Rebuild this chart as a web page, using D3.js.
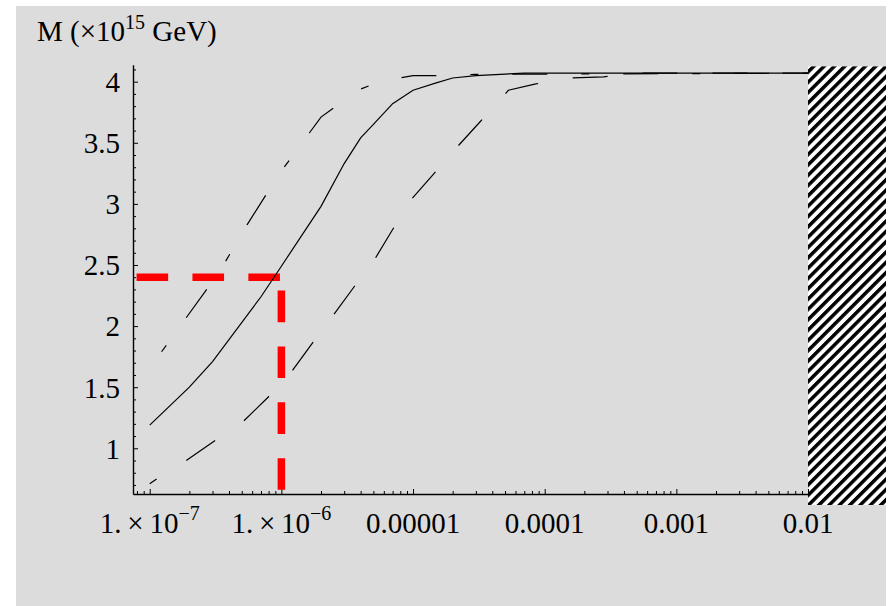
<!DOCTYPE html>
<html>
<head>
<meta charset="utf-8">
<script src="https://cdn.jsdelivr.net/npm/d3@7"></script>
<style>
  body { margin: 0; background: #fff; }
  text { font-family: "Liberation Serif", "Times New Roman", serif; fill: #000; }
</style>
</head>
<body>
<div id="plot"></div>
<script>
// curves: [x, M in 10^15 GeV]
const solidCurve = [[1e-7,1.19],[2e-7,1.50],[3e-7,1.71],[7e-7,2.24],[1e-6,2.49],[2e-6,2.98],
  [3e-6,3.33],[4e-6,3.54],[5e-6,3.65],[7e-6,3.82],[1e-5,3.93],[1.5e-5,3.99],[2e-5,4.03],
  [3e-5,4.05],[7e-5,4.07],[1e-2,4.07]];

const upperCurve = [[1.23e-7,1.79],[2.71e-7,2.30],[3.77e-7,2.53],[5.5e-7,2.83],[7.6e-7,3.07],
  [1.05e-6,3.30],[1.63e-6,3.58],[2e-6,3.71],[3e-6,3.85],[4e-6,3.94],[5e-6,3.98],[7e-6,4.02],
  [1e-5,4.05],[1.5e-5,4.05],[3e-5,4.06],[1e-2,4.07]];

const lowerCurve = [[1e-7,0.71],[1.13e-7,0.75],[1.89e-7,0.90],[3.1e-7,1.06],[5.14e-7,1.22],
  [7.96e-7,1.42],[1.2e-6,1.63],[1.72e-6,1.86],[2.48e-6,2.09],[3.56e-6,2.32],[5.07e-6,2.54],
  [7e-6,2.79],[9.6e-6,3.03],[1.42e-5,3.24],[2.14e-5,3.46],[3.22e-5,3.67],[4.84e-5,3.88],
  [5.3e-5,3.93],[8.4e-5,3.98],[1.5e-4,4.03],[2.8e-4,4.04],[5.2e-4,4.07],[1e-2,4.07]];

// red guide lines at M = 2.4, x = 1e-6
const guideH = [[10 ** -7.1, 2.4], [1e-6, 2.4]];
const guideV = [[1e-6, 0.66], [1e-6, 2.4]];

const yMajor = [1, 1.5, 2, 2.5, 3, 3.5, 4];
const xMajor = [1e-7, 1e-6, 1e-5, 1e-4, 1e-3, 1e-2];
const xLabels = [["1.", "\u22127"], ["1.", "\u22126"], ["0.00001"], ["0.0001"], ["0.001"], ["0.01"]];

const w = 891, h = 606;

const svg = d3.select("div#plot")
  .append("svg")
    .attr("width", w)
    .attr("height", h);

// grey page
svg.append("rect")
  .attr("x", 16).attr("y", 6)
  .attr("width", 870).attr("height", 600)
  .attr("fill", "#dcdcdc");

// scales
const x = d3.scaleLog().domain([10 ** -7.127, 1e-2]).range([133, 808]);
const y = d3.scaleLinear().domain([0.626, 4.139]).range([494, 64.7]);

// hatch pattern for excluded region
const defs = svg.append("defs");
const pat = defs.append("pattern")
  .attr("id", "hatch")
  .attr("patternUnits", "userSpaceOnUse")
  .attr("width", 7.3).attr("height", 7.3)
  .attr("patternTransform", "rotate(45)");
pat.append("rect").attr("width", 7.3).attr("height", 7.3).attr("fill", "#fff");
pat.append("rect").attr("width", 3.5).attr("height", 7.3).attr("fill", "#000");

svg.append("rect")
  .attr("x", x(1e-2))
  .attr("y", y(4.125))
  .attr("width", 886 - x(1e-2))
  .attr("height", y(0.536) - y(4.125))
  .attr("fill", "url(#hatch)");

// axes
const yMinor = d3.range(0.7, 4.15, 0.1).filter(v => yMajor.every(m => Math.abs(m - v) > 1e-6));
const xMinor = [];
[1e-8, 1e-7, 1e-6, 1e-5, 1e-4, 1e-3].forEach(dec => {
  for (let k = 2; k <= 9; k++) {
    const v = k * dec;
    if (v > x.domain()[0] && v < 1e-2) xMinor.push(v);
  }
});

const yAxis = svg.append("g")
  .attr("transform", `translate(${x.range()[0]},0)`)
  .call(d3.axisLeft(y).tickValues(yMajor).tickSize(-5).tickSizeOuter(0).tickPadding(13)
    .tickFormat(d => d));
yAxis.selectAll("text").style("font-size", "29px").attr("dy", "0.34em");

svg.append("g")
  .attr("transform", `translate(${x.range()[0]},0)`)
  .call(d3.axisLeft(y).tickValues(yMinor).tickSize(-3).tickSizeOuter(0).tickFormat(""))
  .select(".domain").remove();

svg.append("g")
  .attr("transform", `translate(0,${y.range()[0]})`)
  .call(d3.axisBottom(x).tickValues(xMajor).tickSize(-5).tickSizeOuter(0).tickFormat(""));

svg.append("g")
  .attr("transform", `translate(0,${y.range()[0]})`)
  .call(d3.axisBottom(x).tickValues(xMinor).tickSize(-3).tickSizeOuter(0).tickFormat(""))
  .select(".domain").remove();

svg.selectAll(".domain").attr("stroke-width", 1.4);
svg.selectAll(".tick line").attr("stroke-width", 1);

// x tick labels
xMajor.forEach((v, i) => {
  const lab = xLabels[i];
  const t = svg.append("text")
    .attr("x", x(v))
    .attr("y", 533)
    .attr("text-anchor", "middle")
    .style("font-size", "29px");
  if (lab.length === 2) {
    t.append("tspan").text(lab[0] + "\u2009\u00d7\u200910");
    t.append("tspan").attr("dy", -13).style("font-size", "20px").text(lab[1]);
  } else {
    t.text(lab[0]);
  }
});

// title
const title = svg.append("text")
  .attr("x", 37)
  .attr("y", 41)
  .style("font-size", "29px");
title.append("tspan").text("M (\u00d710");
title.append("tspan").attr("dy", -12).style("font-size", "20px").text("15");
title.append("tspan").attr("dy", 12).text(" GeV)");

// red guides
const line = d3.line().x(d => x(d[0])).y(d => y(d[1]));

[guideH, guideV].forEach(g => {
  svg.append("path")
    .attr("d", line(g))
    .attr("fill", "none")
    .attr("stroke", "#ff0000")
    .attr("stroke-width", 7.5)
    .attr("stroke-dasharray", "31.6,24.3");
});

// curves
svg.append("path")
  .attr("d", line(solidCurve))
  .attr("fill", "none")
  .attr("stroke", "#000")
  .attr("stroke-width", 1.2);

svg.append("path")
  .attr("d", line(upperCurve))
  .attr("fill", "none")
  .attr("stroke", "#000")
  .attr("stroke-width", 1.2)
  .attr("stroke-dasharray", "8,34,35,34");

svg.append("path")
  .attr("d", line(lowerCurve))
  .attr("fill", "none")
  .attr("stroke", "#000")
  .attr("stroke-width", 1.2)
  .attr("stroke-dasharray", "35,35")
  .attr("stroke-dashoffset", 26.6);
</script>
</body>
</html>
